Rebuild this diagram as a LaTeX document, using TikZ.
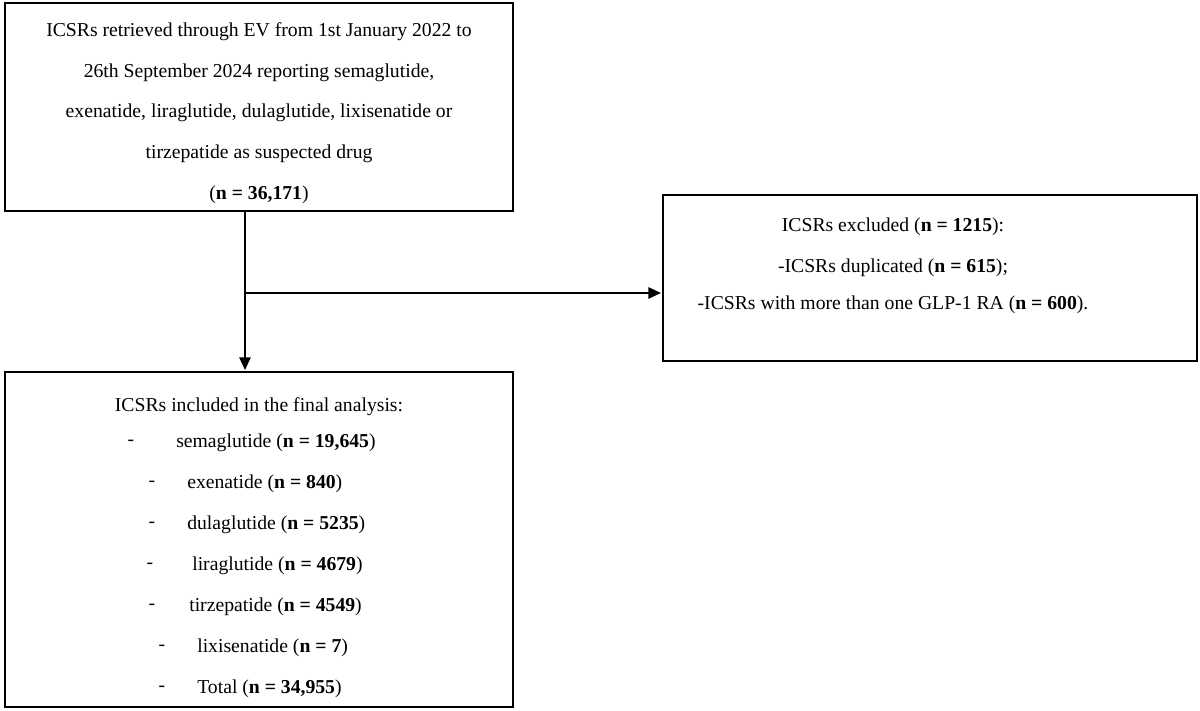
\documentclass[tikz,border=0pt]{standalone}
\usepackage{fontspec}
\setmainfont{Liberation Serif}
\usetikzlibrary{arrows.meta}
\begin{document}
\begin{tikzpicture}[x=0.025cm,y=-0.025cm,
  box/.style={draw,line width=0.8pt},
  t/.style={font=\fontsize{14}{16}\selectfont,inner sep=0pt},
  arr/.style={line width=1.4pt,-{Triangle[length=9pt,width=8pt]}}]
\useasboundingbox (0,0) rectangle (1200,710);
\draw[box] (5,3) rectangle (513,211);
\draw[box] (663,195) rectangle (1197,361);
\draw[box] (5,372) rectangle (513,707);
\node[t] (a1) at (259,32) {ICSRs retrieved through EV from 1st January 2022 to};
\node[t] (a2) at (259,73) {26th September 2024 reporting semaglutide,};
\node[t] (a3) at (259,113) {exenatide, liraglutide, dulaglutide, lixisenatide or};
\node[t] (a4) at (259,154) {tirzepatide as suspected drug};
\node[t] (a5) at (259,195) {(\textbf{n = 36,171})};
\coordinate (top) at (245,211);
\coordinate (mid) at (245,293);
\node[inner sep=0pt] (bot) at (245,371) {};
\node[inner sep=0pt] (rt) at (662,293) {};
\draw[arr] (top) -- (bot);
\draw[arr] (mid) -- (rt);
\node[t] (r1) at (893,227) {ICSRs excluded (\textbf{n = 1215}):};
\node[t] (r2) at (893,268) {-ICSRs duplicated (\textbf{n = 615});};
\node[t] (r3) at (893,305) {-ICSRs with more than one GLP-1 RA (\textbf{n = 600}).};
\node[t] (b0) at (259,407) {ICSRs included in the final analysis:};
\node[t] (d1) at (131,443) {-}; \node[t,anchor=west] (b1) at (176,443) {semaglutide (\textbf{n = 19,645})};
\node[t] (d2) at (152,484) {-}; \node[t,anchor=west] (b2) at (187,484) {exenatide (\textbf{n = 840})};
\node[t] (d3) at (152,525) {-}; \node[t,anchor=west] (b3) at (187,525) {dulaglutide (\textbf{n = 5235})};
\node[t] (d4) at (150,566) {-}; \node[t,anchor=west] (b4) at (192,566) {liraglutide (\textbf{n = 4679})};
\node[t] (d5) at (152,607) {-}; \node[t,anchor=west] (b5) at (189,607) {tirzepatide (\textbf{n = 4549})};
\node[t] (d6) at (162,648) {-}; \node[t,anchor=west] (b6) at (197,648) {lixisenatide (\textbf{n = 7})};
\node[t] (d7) at (162,689) {-}; \node[t,anchor=west] (b7) at (197,689) {Total (\textbf{n = 34,955})};
\end{tikzpicture}
\end{document}
